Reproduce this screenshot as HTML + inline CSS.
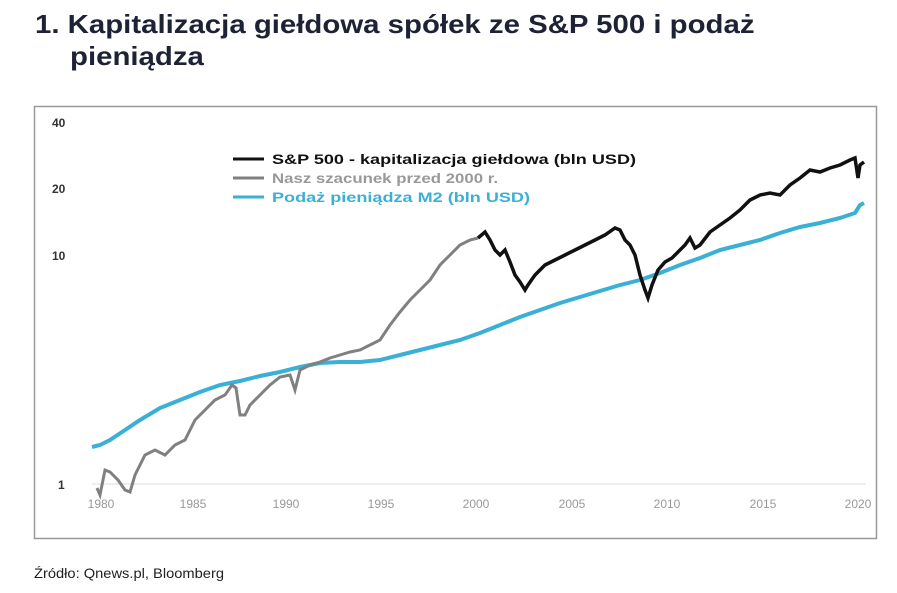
<!DOCTYPE html>
<html><head><meta charset="utf-8"><style>
body{margin:0;width:897px;height:593px;background:#fff;font-family:"Liberation Sans","DejaVu Sans",sans-serif;overflow:hidden;position:relative}
.t{position:absolute;font-weight:bold;font-size:26px;color:#1e2235;left:35px;transform:scaleX(1.13);transform-origin:left top;white-space:nowrap}
</style></head><body>
<div class="t" style="top:9px">1. Kapitalizacja giełdowa spółek ze S&amp;P 500 i podaż</div>
<div class="t" style="top:41px;left:70px">pieniądza</div>
<svg width="897" height="593" style="position:absolute;left:0;top:0" font-family="Liberation Sans, DejaVu Sans, sans-serif">
<rect x="34.5" y="106.5" width="842" height="432" fill="none" stroke="#999" stroke-width="1.5"/>
<line x1="92" y1="484" x2="866" y2="484" stroke="#ddd"/>
<g font-size="12" font-weight="bold" fill="#333"><text x="52" y="127">40</text><text x="52" y="193">20</text><text x="52" y="260">10</text><text x="58" y="489">1</text></g>
<g font-size="12" fill="#999" text-anchor="middle"><text x="101" y="508">1980</text><text x="193" y="508">1985</text><text x="286" y="508">1990</text><text x="381" y="508">1995</text><text x="476" y="508">2000</text><text x="572" y="508">2005</text><text x="667" y="508">2010</text><text x="763" y="508">2015</text><text x="858" y="508">2020</text></g>
<polyline fill="none" stroke="#3bb0d6" stroke-width="4" points="92,447 100,445 110,440 125,430 140,420 160,408 180,400 200,392 220,385 240,381 260,376 280,372 300,367 320,363 340,362 360,362 380,360 400,355 420,350 440,345 460,340 480,333 500,325 520,317 540,310 560,303 580,297 600,291 620,285 640,280 660,273 680,265 700,258 720,250 740,245 760,240 780,233 800,227 820,223 840,218 855,213 860,205 864,203"/>
<polyline fill="none" stroke="#808080" stroke-width="3" points="97,488 100,495 105,470 110,472 118,480 125,490 130,492 135,475 145,455 155,450 165,455 175,445 185,440 195,420 205,410 215,400 225,395 232,385 236,388 240,415 245,415 250,405 260,395 270,385 280,377 290,375 295,390 300,370 310,365 320,362 330,358 340,355 350,352 360,350 370,345 380,340 390,325 400,312 410,300 420,290 430,280 440,265 450,255 460,245 470,240 478,238"/>
<polyline fill="none" stroke="#111" stroke-width="3.5" points="478,238 485,232 490,240 495,250 500,255 505,250 510,262 515,275 520,282 525,290 528,285 535,275 545,265 555,260 565,255 575,250 585,245 595,240 605,235 615,228 620,230 625,240 630,245 635,255 640,275 645,290 648,298 652,285 658,270 665,262 672,258 680,250 685,245 690,238 695,248 700,245 710,232 720,225 730,218 740,210 750,200 760,195 770,193 780,195 790,185 800,178 810,170 820,172 830,168 840,165 850,160 855,158 858,178 860,165 864,162"/>
<line x1="233" y1="159" x2="264" y2="159" stroke="#111" stroke-width="3"/>
<line x1="233" y1="178" x2="264" y2="178" stroke="#808080" stroke-width="3"/>
<line x1="233" y1="197" x2="264" y2="197" stroke="#3bb0d6" stroke-width="3"/>
<g font-size="14" font-weight="bold"><text x="272" y="164" fill="#111" textLength="364" lengthAdjust="spacingAndGlyphs">S&amp;P 500 - kapitalizacja giełdowa (bln USD)</text><text x="272" y="183" fill="#999" textLength="226" lengthAdjust="spacingAndGlyphs">Nasz szacunek przed 2000 r.</text><text x="272" y="202" fill="#3bb0d6" textLength="258" lengthAdjust="spacingAndGlyphs">Podaż pieniądza M2 (bln USD)</text></g>
<text x="34" y="578" font-size="14" fill="#222" textLength="190" lengthAdjust="spacingAndGlyphs">Źródło: Qnews.pl, Bloomberg</text>
</svg>
</body></html>
